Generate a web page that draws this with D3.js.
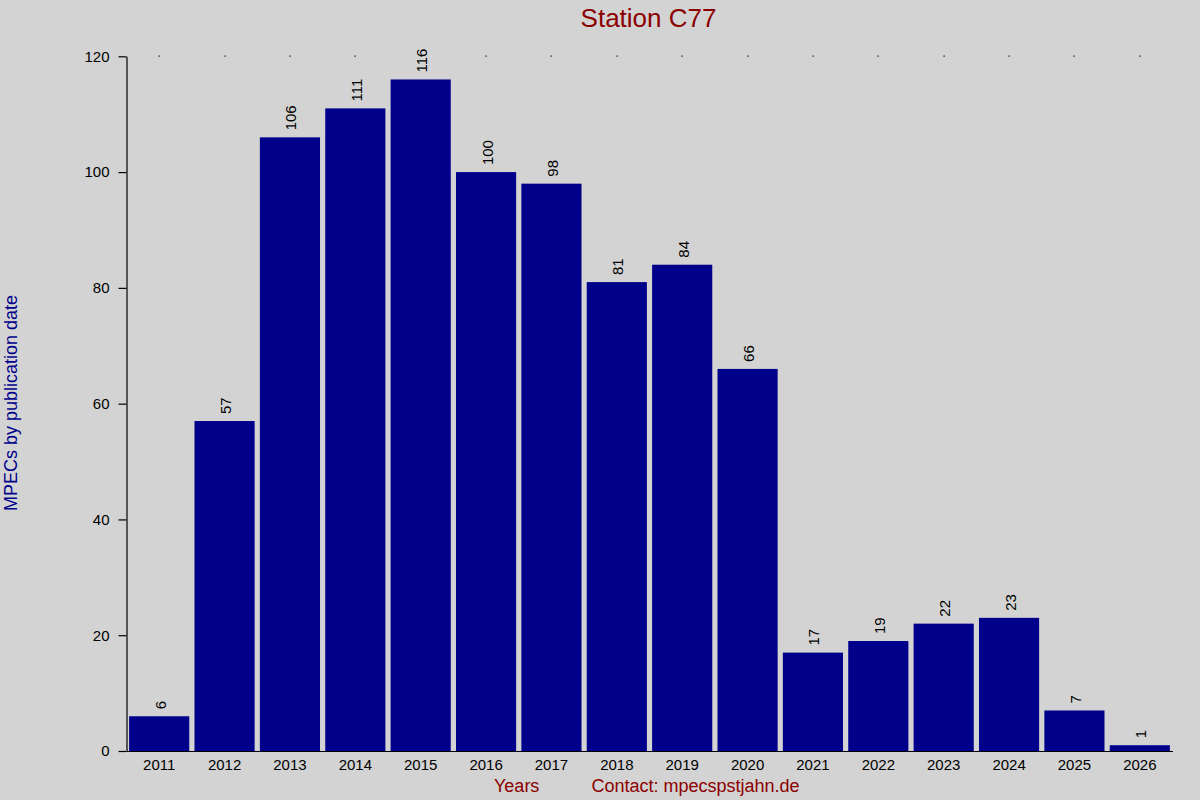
<!DOCTYPE html>
<html>
<head>
<meta charset="utf-8">
<script src="https://cdn.jsdelivr.net/npm/d3@7"></script>
<style>
  html, body { margin: 0; padding: 0; background: #d3d3d3; }
  svg { display: block; font-family: "Liberation Sans", Arial, sans-serif; }
</style>
</head>
<body>
<div id="chart"></div>
<script>
const years = ["2011", "2012", "2013", "2014", "2015", "2016", "2017", "2018",
  "2019", "2020", "2021", "2022", "2023", "2024", "2025", "2026"];
const counts = [6, 57, 106, 111, 116, 100, 98, 81, 84, 66, 17, 19, 22, 23, 7, 1];
const yTicks = [0, 20, 40, 60, 80, 100, 120];

const width = 1200;
const height = 800;

const svg = d3.select("#chart").append("svg")
  .attr("width", width)
  .attr("height", height);

svg.append("rect")
  .attr("width", width).attr("height", height)
  .attr("fill", "#d3d3d3");

const x = d3.scaleBand()
  .domain(years)
  .range([126.5, 1172.5])
  .paddingInner(0.08)
  .paddingOuter(0.04);

const y = d3.scaleLinear()
  .domain([0, 120])
  .range([751, 56.3]);

const rows = years.map((year, i) => ({ year, value: counts[i] }));

// bars
svg.append("g").selectAll("rect")
  .data(rows)
  .join("rect")
  .attr("x", (d) => x(d.year))
  .attr("y", (d) => y(d.value))
  .attr("width", x.bandwidth())
  .attr("height", (d) => y(0) - y(d.value))
  .attr("fill", "#00008b");

// value labels, rotated
svg.append("g").selectAll("text")
  .data(rows)
  .join("text")
  .attr("transform", (d) => `translate(${x(d.year) + x.bandwidth() / 2 + 6.5},${y(d.value) - 7}) rotate(-90)`)
  .attr("font-size", 15)
  .attr("fill", "#000")
  .text((d) => d.value);

// little dots along the top
svg.append("g").selectAll("rect")
  .data(years)
  .join("rect")
  .attr("x", (d) => Math.round(x(d) + x.bandwidth() / 2) - 0.5)
  .attr("y", Math.round(y(120)) - 0.5)
  .attr("width", 1.2).attr("height", 1.2)
  .attr("fill", "#000");

// x axis
const xAxis = svg.append("g")
  .attr("transform", `translate(0,${y(0)})`)
  .call(d3.axisBottom(x).tickSize(0).tickSizeOuter(0).tickPadding(8));
xAxis.select(".domain").attr("stroke", "#000").attr("stroke-width", 1.2);
xAxis.selectAll("text")
  .attr("font-size", 15)
  .attr("font-family", "'Liberation Sans', Arial, sans-serif")
  .attr("fill", "#000");

// y axis
const yAxis = svg.append("g")
  .attr("transform", `translate(126.5,0)`)
  .call(d3.axisLeft(y).tickValues(yTicks).tickSize(8).tickSizeOuter(0).tickPadding(9));
yAxis.select(".domain").attr("stroke", "#000").attr("stroke-width", 1.2);
yAxis.selectAll(".tick line").attr("stroke", "#000").attr("stroke-width", 1.2);
yAxis.selectAll("text")
  .attr("font-size", 15)
  .attr("font-family", "'Liberation Sans', Arial, sans-serif")
  .attr("fill", "#000");

// title
svg.append("text")
  .attr("x", 648.5).attr("y", 27)
  .attr("text-anchor", "middle")
  .attr("font-size", 26)
  .attr("fill", "#8b0000")
  .text("Station C77");

// y label
svg.append("text")
  .attr("transform", "translate(17,403) rotate(-90)")
  .attr("text-anchor", "middle")
  .attr("font-size", 18)
  .attr("fill", "#00008b")
  .text("MPECs by publication date");

// bottom labels
svg.append("text")
  .attr("x", 494).attr("y", 791.5)
  .attr("font-size", 18)
  .attr("fill", "#8b0000")
  .text("Years");

svg.append("text")
  .attr("x", 591.5).attr("y", 791.5)
  .attr("font-size", 18)
  .attr("fill", "#8b0000")
  .text("Contact: mpecspstjahn.de");
</script>
</body>
</html>
